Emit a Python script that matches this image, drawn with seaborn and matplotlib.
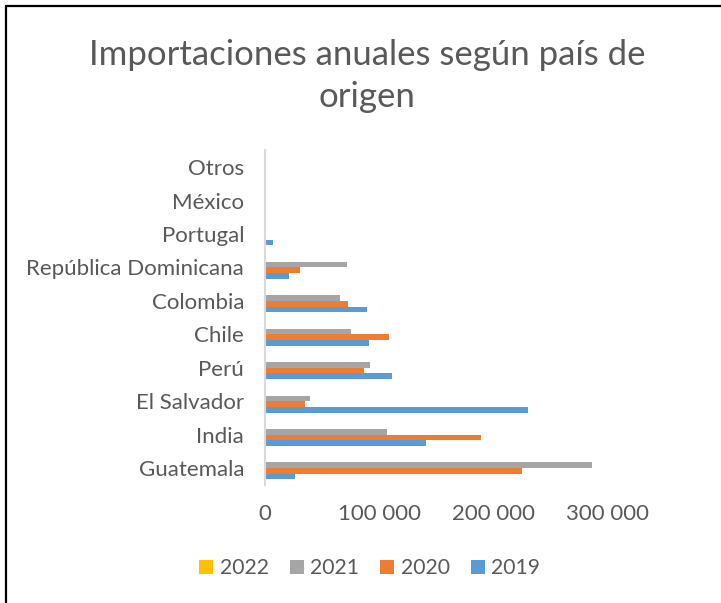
import matplotlib
matplotlib.use("Agg")
import matplotlib.pyplot as plt
from matplotlib.lines import Line2D
from matplotlib.patches import Patch
from matplotlib.ticker import FuncFormatter
import seaborn as sns
import pandas as pd

# ---- data ----
countries = ["Otros", "México", "Portugal", "República Dominicana", "Colombia",
             "Chile", "Perú", "El Salvador", "India", "Guatemala"]
years = ["2022", "2021", "2020", "2019"]
v2022 = [0, 0, 0, 0, 0, 0, 0, 0, 0, 0]
v2021 = [300, 1200, 0, 72000, 65600, 75200, 92100, 39100, 106700, 287000]
v2020 = [400, 600, 0, 30900, 72900, 108800, 86600, 34700, 189600, 225700]
v2019 = [0, 0, 7000, 20700, 89800, 91000, 111400, 230400, 140900, 26200]
colors = ["#FFC000", "#A5A5A5", "#ED7D31", "#5B9BD5"]
xticks = [0, 100000, 200000, 300000]

rows = []
for yr, vals in zip(years, [v2022, v2021, v2020, v2019]):
    for c, v in zip(countries, vals):
        rows.append({"country": c, "year": yr, "value": v})
df = pd.DataFrame(rows)

sns.set_theme(style="white")
plt.rcParams["font.family"] = ["Lato", "DejaVu Sans"]
txt = "#595959"

fig = plt.figure(figsize=(7.21, 6.03), dpi=100)
ax = fig.add_axes([0.3675, 0.196, 0.842 - 0.3675, 0.5546])

sns.barplot(data=df, y="country", x="value", hue="year", order=countries,
            hue_order=years, palette=colors, orient="h", width=0.68,
            linewidth=0, saturation=1, ax=ax, legend=False, errorbar=None)

ax.set_xlim(0, 300000)
ax.set_ylim(9.5, -0.5)
ax.set_xticks(xticks)
ax.xaxis.set_major_formatter(FuncFormatter(lambda v, p: f"{int(v):,}".replace(",", " ")))
ax.set_xlabel("")
ax.set_ylabel("")
for s in ["top", "right", "bottom"]:
    ax.spines[s].set_visible(False)
ax.spines["left"].set_color("#d9d9d9")
ax.spines["left"].set_linewidth(1.5)
ax.tick_params(axis="both", length=0, labelsize=16, labelcolor=txt)
ax.tick_params(axis="y", pad=15)
ax.tick_params(axis="x", pad=14)

fig.text(0.509, 0.909, "Importaciones anuales según país de", ha="center", va="center",
         fontsize=25, color=txt)
fig.text(0.509, 0.839, "origen", ha="center", va="center", fontsize=25, color=txt)

handles = [Patch(facecolor=c, edgecolor="none") for c in colors]
fig.legend(handles, years, loc="center", bbox_to_anchor=(0.513, 0.058), ncol=4,
           frameon=False, fontsize=15.2, labelcolor=txt, handlelength=0.66,
           handleheight=0.66, handletextpad=0.31, columnspacing=1.0)

fig.add_artist(Line2D([0.009, 0.009], [0, 0.99], transform=fig.transFigure,
                      color="black", linewidth=1.6))
fig.add_artist(Line2D([0.009, 1.0], [0.99, 0.99], transform=fig.transFigure,
                      color="black", linewidth=1.6))

fig.savefig("out.png", dpi=100)
